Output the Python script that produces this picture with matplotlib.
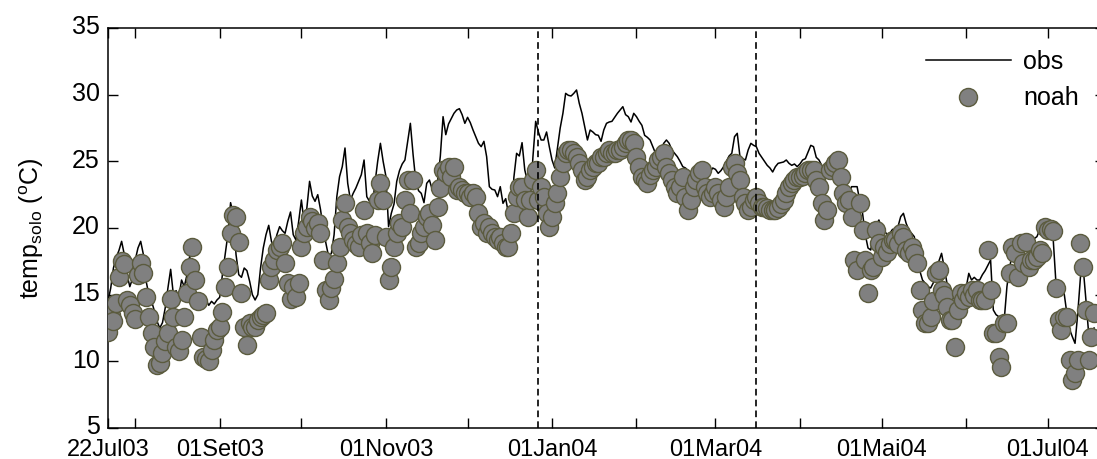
import matplotlib
matplotlib.use('Agg')
import matplotlib.pyplot as plt
import matplotlib.transforms as mtransforms
import pandas as pd

# daily soil temperature, 22Jul03 onwards
obs = [14.5, 15.5, 17.0, 17.8, 18.3, 19.0, 18.0, 16.5, 15.6, 16.2,
       17.6, 18.5, 19.0, 18.0, 16.0, 15.0, 14.5, 13.8, 13.0, 12.5,
       12.9, 14.0, 15.5, 16.9, 15.0, 15.3, 14.8, 16.1, 15.6, 16.5,
       17.9, 16.0, 15.2, 14.8, 14.5, 14.3, 14.6, 14.2, 14.5, 14.3,
       14.6, 14.8, 16.5, 18.0, 19.5, 21.9, 21.0, 18.0, 16.5, 16.3,
       17.0, 16.8, 16.0, 15.0, 14.6, 15.0, 17.0, 18.5, 19.5, 20.2,
       19.0, 18.6, 19.5, 20.1, 19.8, 19.6, 20.5, 21.2, 19.5, 19.1,
       20.5, 22.1, 20.4, 21.5, 23.5, 22.4, 22.0, 22.5, 21.4, 20.0,
       18.85, 17.85, 18.1, 19.5, 22.35, 23.85, 24.6, 26.0, 23.35, 22.1,
       22.6, 23.0, 23.5, 24.0, 25.1, 22.35, 22.0, 21.6, 23.35, 25.0,
       26.35, 25.0, 23.9, 20.1, 21.1, 21.8, 23.5, 24.3, 24.8, 25.1,
       26.5, 27.85, 25.5, 23.5, 22.8, 22.6, 21.9, 23.35, 23.6, 22.9,
       22.6, 23.5, 25.4, 28.35, 27.0, 27.8, 28.2, 28.6, 28.85, 28.95,
       28.5, 27.85, 28.3, 27.9, 27.35, 26.85, 26.35, 26.1, 26.5, 25.35,
       23.1, 22.9, 22.85, 22.35, 23.1, 21.85, 22.2, 21.1, 20.5, 23.8,
       25.6, 25.4, 26.4, 24.35, 23.5, 22.1, 25.35, 28.0, 27.2, 26.6,
       26.6, 27.2, 26.1, 25.1, 24.5, 26.0, 27.5, 28.6, 30.1, 29.95,
       29.9, 30.1, 30.35, 29.35, 28.6, 27.6, 26.6, 27.35, 27.2, 27.0,
       26.95, 26.5, 27.35, 27.85, 27.95, 28.0, 28.3, 28.6, 28.85, 29.1,
       28.5, 28.35, 27.95, 28.6, 28.35, 28.0, 27.7, 26.95, 26.8, 26.6,
       26.1, 25.6, 25.35, 25.8, 26.35, 26.6, 26.35, 25.85, 25.6, 25.35,
       25.0, 24.6, 24.5, 24.3, 24.0, 24.2, 24.5, 24.8, 24.6, 24.3,
       24.0, 24.2, 24.5, 24.4, 24.1, 24.3, 24.6, 25.0, 25.4, 25.6,
       26.85, 27.1, 25.35, 25.2, 25.1, 25.85, 26.35, 26.2, 26.1, 25.6,
       25.3, 25.0, 24.7, 24.5, 24.2, 24.6, 24.85, 24.9, 24.95, 25.1,
       24.85, 24.7, 24.8, 24.6, 24.8, 25.1, 25.2, 25.7, 26.2, 26.1,
       25.3, 25.1, 24.7, 24.5, 24.8, 25.0, 25.2, 25.1, 24.5, 23.8,
       23.3, 23.1, 22.6, 23.1, 23.1, 23.1, 22.0, 21.1, 19.5, 18.5,
       18.35, 19.5, 20.2, 20.6, 20.0, 19.8, 19.5, 19.6, 19.9, 19.85,
       20.1, 20.85, 21.1, 20.35, 19.85, 19.6, 19.35, 17.85, 16.8, 16.1,
       15.85, 15.6, 15.5, 15.9, 16.8, 17.5, 18.1, 17.0, 15.85, 15.1,
       14.8, 14.6, 14.6, 14.3, 14.8, 15.5, 16.6, 16.1, 16.3, 16.1,
       16.1, 16.5, 16.8, 17.2, 17.6, 13.85, 13.5, 13.35, 13.2, 13.1,
       15.6, 17.1, 18.0, 18.2, 18.0, 18.3, 18.5, 18.6, 18.8, 19.0,
       19.2, 19.35, 19.85, 20.0, 19.8, 19.6, 19.3, 19.1, 15.85, 15.5,
       15.3, 15.1, 13.6, 12.4, 11.85, 11.35, 13.6, 16.35, 17.0, 14.6,
       12.1, 11.5, 12.5]

noah = [12.2, 13.5, 13.0, 14.35, 16.35, 17.5, 17.3, 14.6, 14.2, 13.6,
        13.2, 16.5, 17.35, 16.6, 14.85, 13.35, 12.1, 11.1, 9.7, 9.85,
        10.6, 11.5, 12.1, 14.7, 13.35, 11.1, 10.8, 11.6, 13.35, 15.1,
        17.1, 18.6, 16.1, 14.5, 11.85, 10.35, 10.2, 10.0, 10.85, 11.6,
        12.35, 12.6, 13.7, 15.6, 17.1, 19.6, 21.0, 20.85, 18.95, 15.1,
        12.6, 11.2, 12.85, 12.6, 12.6, 13.1, 13.35, 13.5, 13.6, 16.1,
        17.1, 17.6, 18.35, 18.6, 18.85, 17.35, 15.85, 14.7, 15.6, 14.85,
        15.85, 18.6, 19.6, 20.1, 20.85, 20.5, 20.0, 20.35, 19.6, 17.6,
        15.35, 14.6, 15.5, 16.2, 17.35, 18.6, 20.6, 21.85, 20.1, 19.6,
        19.1, 18.8, 18.6, 19.5, 21.35, 19.6, 18.85, 18.1, 19.5, 22.1,
        23.35, 22.1, 19.35, 16.1, 17.1, 18.6, 19.6, 20.35, 20.1, 22.1,
        23.6, 21.1, 23.6, 18.6, 18.85, 19.6, 20.1, 20.85, 21.1, 20.2,
        19.1, 21.6, 23.0, 24.35, 24.1, 24.6, 23.85, 24.6, 22.85, 23.1,
        22.85, 22.6, 22.6, 22.35, 22.6, 22.35, 21.1, 20.1, 20.35, 19.6,
        20.1, 19.6, 19.35, 19.1, 19.35, 18.85, 18.6, 18.6, 19.6, 21.1,
        22.35, 23.1, 23.1, 22.1, 20.85, 22.1, 23.6, 24.35, 22.1, 23.1,
        22.35, 21.1, 20.1, 20.85, 21.85, 22.6, 23.85, 24.85, 25.6, 25.85,
        25.85, 25.6, 25.35, 24.85, 24.35, 23.6, 23.85, 24.35, 24.6, 24.85,
        24.85, 25.35, 25.35, 25.6, 25.85, 25.6, 25.6, 25.85, 25.85, 26.1,
        26.35, 26.6, 26.6, 26.35, 25.35, 24.6, 23.85, 23.6, 23.35, 24.0,
        24.35, 24.6, 25.1, 25.35, 25.6, 24.6, 24.1, 23.6, 23.1, 22.6,
        23.1, 23.85, 22.35, 21.35, 22.1, 23.1, 23.6, 24.1, 24.35, 23.1,
        22.6, 22.35, 22.6, 23.1, 22.6, 22.1, 21.6, 22.3, 23.1, 24.6,
        24.85, 24.1, 23.6, 22.35, 21.85, 21.35, 21.6, 22.1, 22.35, 21.85,
        21.6, 21.6, 21.5, 21.35, 21.35, 21.35, 21.5, 21.8, 22.1, 22.6,
        23.1, 23.35, 23.6, 23.85, 23.85, 23.9, 24.1, 24.35, 24.35, 24.35,
        23.6, 23.1, 21.85, 20.6, 21.35, 24.35, 24.6, 24.85, 25.1, 23.85,
        22.6, 21.85, 22.1, 20.85, 17.6, 16.85, 21.85, 19.85, 17.6, 15.1,
        16.85, 17.1, 19.85, 18.85, 17.85, 18.6, 18.2, 18.8, 19.1, 19.1,
        18.8, 19.6, 19.35, 18.35, 18.1, 18.6, 18.1, 17.35, 15.35, 13.85,
        12.85, 12.85, 13.35, 14.5, 16.6, 16.85, 15.35, 15.0, 14.1, 13.1,
        13.1, 11.1, 13.85, 15.1, 14.6, 15.1, 14.8, 15.35, 15.0, 15.35,
        14.6, 14.6, 14.6, 18.35, 15.35, 12.1, 12.1, 10.35, 9.6, 12.85,
        12.85, 16.6, 18.6, 18.1, 16.35, 18.85, 17.35, 18.95, 17.1, 17.6,
        17.6, 17.85, 18.35, 18.1, 20.1, 19.85, 19.95, 19.8, 15.5, 13.1,
        12.35, 13.35, 13.35, 10.1, 8.6, 9.1, 10.1, 18.85, 17.1, 13.85,
        10.1, 11.85, 13.6]

start_date = '2003-07-22'
end_date = '2004-07-22'
tick_dates = ['2003-07-22', '2003-08-01', '2003-09-01', '2003-10-01',
              '2003-11-01', '2003-12-01', '2004-01-01', '2004-02-01',
              '2004-03-01', '2004-04-01', '2004-05-01', '2004-06-01',
              '2004-07-01']
tick_labels = ['22Jul03', '', '01Set03', '', '01Nov03', '', '01Jan04', '',
               '01Mar04', '', '01Mai04', '', '01Jul04']
period_marks = ['2003-12-27', '2004-03-16']

plt.rcParams['font.family'] = ['Liberation Sans', 'DejaVu Sans']
plt.rcParams['mathtext.fontset'] = 'custom'
plt.rcParams['mathtext.rm'] = 'Liberation Sans'

dates = pd.date_range(start_date, periods=len(obs), freq='D')

fig = plt.figure(figsize=(10.97, 4.59), dpi=100)
# axes run slightly past the right edge, as in the original crop
ax = fig.add_axes([108 / 1097, 31 / 459, 997 / 1097, 400 / 459])

ax.plot(dates, obs, color='black', lw=1.1, label='obs', zorder=2)
ax.plot(dates, noah, ls='none', marker='o', ms=13, mfc='#808080',
        mec='#5b5b3e', mew=1.0, label='noah', zorder=3)

# dashed lines marking the period limits
for d in period_marks:
    ax.axvline(pd.Timestamp(d), color='black', lw=1.2, ls=(0, (4, 2.5)),
               zorder=4)

ax.set_xlim(pd.Timestamp(start_date), pd.Timestamp(end_date))
ax.set_ylim(5, 35)
ax.set_yticks(range(5, 36, 5))
ax.set_xticks(pd.to_datetime(tick_dates))
ax.set_xticklabels(tick_labels)
ax.tick_params(direction='in', top=True, right=True, length=7, width=1,
               labelsize=18)
ax.tick_params(axis='y', pad=6)
ax.tick_params(axis='x', pad=8, labelsize=17)
for s in ax.spines.values():
    s.set_linewidth(1.1)

# nudge the y tick labels up a little so "5" clears "22Jul03"
shift = mtransforms.ScaledTranslation(0, 3 / 100, fig.dpi_scale_trans)
for lab in ax.get_yticklabels():
    lab.set_transform(lab.get_transform() + shift)

ax.set_ylabel(r'temp$_{\mathrm{solo}}$ ($^{\mathrm{o}}$C)', fontsize=18)
ax.yaxis.set_label_coords(-0.062, 0.5)

ax.legend(loc='upper right', bbox_to_anchor=(0.984, 0.97), borderaxespad=0,
          frameon=False, fontsize=18, handlelength=3.4, handletextpad=0.5,
          labelspacing=0.5)

fig.savefig('out.png', dpi=100)
